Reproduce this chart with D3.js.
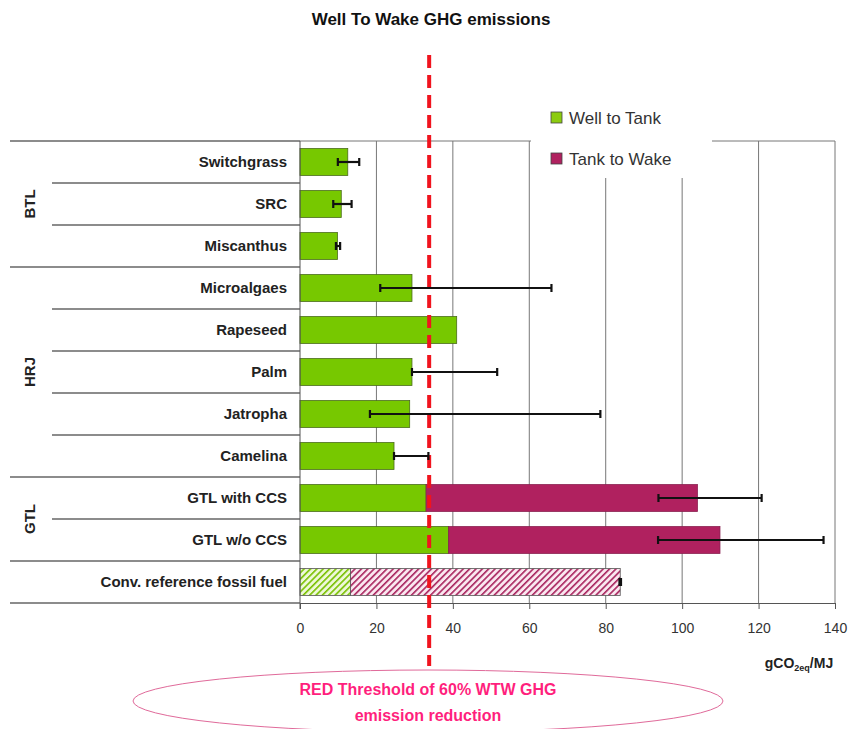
<!DOCTYPE html>
<html><head><meta charset="utf-8">
<script src="https://cdn.jsdelivr.net/npm/d3@7"></script>
<style>body{margin:0;background:#fff;} svg{display:block;font-family:Arial,"Liberation Sans",sans-serif;}</style>
</head><body>
<script>
const categories = ["Switchgrass","SRC","Miscanthus","Microalgaes","Rapeseed","Palm","Jatropha","Camelina","GTL with CCS","GTL w/o CCS","Conv. reference fossil fuel"];
const wellToTank = [12.5, 10.8, 9.8, 29.3, 41, 29.3, 28.7, 24.6, 33, 38.9, 13.2];
const tankToWake = [0, 0, 0, 0, 0, 0, 0, 0, 71, 71, 70.6];
const errLow  = [9.9, 8.7, 9.4, 21, null, 29.3, 18.3, 24.6, 93.8, 93.7, 83.6];
const errHigh = [15.5, 13.5, 10.5, 65.8, null, 51.6, 78.6, 33.6, 120.8, 137, 84];
const groups = [{name:"BTL", from:0, to:2},{name:"HRJ", from:3, to:7},{name:"GTL", from:8, to:9}];
const xTicks = [0,20,40,60,80,100,120,140];
const threshold = 33.8;

const W=861,H=729;
const svg=d3.select("body").append("svg").attr("width",W).attr("height",H);
const defs=svg.append("defs");
function hatch(id,color,bg){
  const p=defs.append("pattern").attr("id",id).attr("patternUnits","userSpaceOnUse").attr("width",4.5).attr("height",4.5).attr("patternTransform","rotate(45)");
  p.append("rect").attr("width",4.5).attr("height",4.5).attr("fill",bg);
  p.append("rect").attr("x",0).attr("y",0).attr("width",1.6).attr("height",4.5).attr("fill",color);
}
hatch("hg","#78c000","#eef8d8");
hatch("hp","#a8245e","#fae8f0");

const x=d3.scaleLinear().domain([0,140]).range([300,835]);
const y=d3.scaleBand().domain(categories).range([141,603]).paddingInner(0.36).paddingOuter(0.18);
const rowH=(603-141)/categories.length;

// title
svg.append("text").attr("x",431).attr("y",25).attr("text-anchor","middle").attr("font-weight","bold").attr("font-size",17).attr("fill","#111").text("Well To Wake GHG emissions");

// gridlines
const grid=svg.append("g");
xTicks.slice(1,-1).forEach(t=>{
  grid.append("line").attr("x1",x(t)).attr("x2",x(t)).attr("y1",141).attr("y2",603).attr("stroke","#777").attr("stroke-width",1);
});
svg.append("line").attr("x1",300).attr("x2",835).attr("y1",141).attr("y2",141).attr("stroke","#777");
svg.append("line").attr("x1",835).attr("x2",835).attr("y1",141).attr("y2",603).attr("stroke","#777");

// row separators in label area
for(let i=0;i<=categories.length;i++){
  const yy=141+i*rowH;
  const isGroup = i===0 || i===categories.length || groups.some(g=>g.from===i) || i===groups[groups.length-1].to+1;
  svg.append("line").attr("x1",isGroup?10:52).attr("x2",300).attr("y1",yy).attr("y2",yy).attr("stroke","#666").attr("stroke-width",1.3);
}

// bars
const bars=svg.append("g");
categories.forEach((c,i)=>{
  const conv = i===categories.length-1;
  bars.append("rect").attr("x",x(0)).attr("y",y(c)).attr("width",x(wellToTank[i])-x(0)).attr("height",y.bandwidth())
    .attr("fill",conv?"url(#hg)":"#77c800").attr("stroke",conv?"#555":"#4a6b1a").attr("stroke-width",0.8);
  if(tankToWake[i]>0){
    bars.append("rect").attr("x",x(wellToTank[i])).attr("y",y(c)).attr("width",x(wellToTank[i]+tankToWake[i])-x(wellToTank[i])).attr("height",y.bandwidth())
      .attr("fill",conv?"url(#hp)":"#b0215f").attr("stroke",conv?"#555":"#8a2050").attr("stroke-width",0.8);
  }
});

// x axis
const xa=svg.append("g").attr("transform","translate(0,603)").call(d3.axisBottom(x).tickValues(xTicks).tickSize(6).tickPadding(14));
xa.select(".domain").attr("stroke","#555");
xa.selectAll(".tick line").attr("stroke","#555");
xa.selectAll("text").attr("font-size",14).attr("fill","#333").attr("font-family","Arial,'Liberation Sans',sans-serif");
svg.append("line").attr("x1",300).attr("x2",300).attr("y1",141).attr("y2",609).attr("stroke","#555");

// threshold dashed line
svg.append("line").attr("x1",x(threshold)).attr("x2",x(threshold)).attr("y1",55).attr("y2",666)
  .attr("stroke","#f0141e").attr("stroke-width",4).attr("stroke-dasharray","13,7");

// error bars
const eb=svg.append("g").attr("stroke","#111").attr("stroke-width",2.2);
categories.forEach((c,i)=>{
  if(errLow[i]==null) return;
  const cy=y(c)+y.bandwidth()/2;
  eb.append("line").attr("x1",x(errLow[i])).attr("x2",x(errHigh[i])).attr("y1",cy).attr("y2",cy);
  [errLow[i],errHigh[i]].forEach(v=>eb.append("line").attr("x1",x(v)).attr("x2",x(v)).attr("y1",cy-4).attr("y2",cy+4));
});

// category labels
categories.forEach((c,i)=>{
  svg.append("text").attr("x",287).attr("y",y(c)+y.bandwidth()/2+5).attr("text-anchor","end").attr("font-weight","bold").attr("font-size",15).attr("fill","#222").text(c);
});
// group labels
groups.forEach(g=>{
  const cy=(y(categories[g.from])+y(categories[g.to])+y.bandwidth())/2;
  svg.append("text").attr("transform",`translate(35,${cy}) rotate(-90)`).attr("text-anchor","middle").attr("font-weight","bold").attr("font-size",15).attr("fill","#222").text(g.name);
});

// legend
const lg=svg.append("g");
lg.append("rect").attr("x",531).attr("y",96).attr("width",181).attr("height",82).attr("fill","#fff");
[["Well to Tank","#8ccc10",118],["Tank to Wake","#b0215f",159]].forEach(([t,col,yy])=>{
  lg.append("rect").attr("x",551).attr("y",yy-6).attr("width",11).attr("height",11).attr("fill",col).attr("stroke","#444").attr("stroke-width",0.8);
  lg.append("text").attr("x",569).attr("y",yy+6).attr("font-size",17).attr("fill","#333").text(t);
});

// unit label
const ul=svg.append("text").attr("x",799).attr("y",668).attr("text-anchor","middle").attr("font-weight","bold").attr("font-size",14).attr("fill","#222");
ul.append("tspan").text("gCO");
ul.append("tspan").attr("font-size",9).attr("dy",3).text("2eq");
ul.append("tspan").attr("dy",-3).text("/MJ");

// ellipse annotation
svg.append("ellipse").attr("cx",428).attr("cy",701).attr("rx",295).attr("ry",31).attr("fill","none").attr("stroke","#e06a9a").attr("stroke-width",1);
svg.append("text").attr("x",428).attr("y",695).attr("text-anchor","middle").attr("font-weight","bold").attr("font-size",16).attr("fill","#ff1f7d").text("RED Threshold of 60% WTW GHG");
svg.append("text").attr("x",428).attr("y",721).attr("text-anchor","middle").attr("font-weight","bold").attr("font-size",16).attr("fill","#ff1f7d").text("emission reduction");
</script>
</body></html>
